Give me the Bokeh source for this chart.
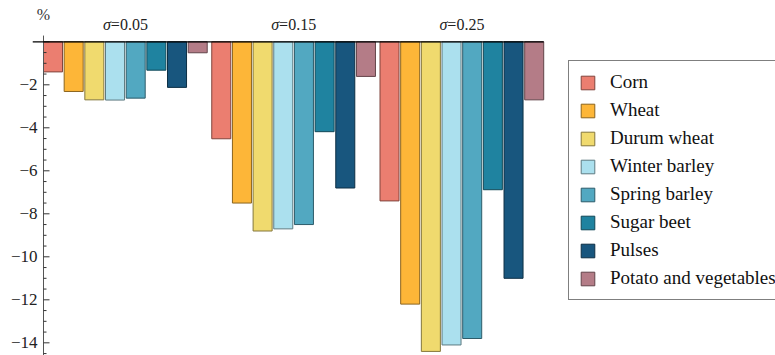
from bokeh.plotting import figure
from bokeh.models import Legend, LegendItem, FixedTicker, Label
from bokeh.embed import file_html
from bokeh.resources import INLINE

# ---------------- data ----------------
crops = ["Corn", "Wheat", "Durum wheat", "Winter barley", "Spring barley",
         "Sugar beet", "Pulses", "Potato and vegetables"]
sigma_labels = ["0.05", "0.15", "0.25"]
change_s005 = [-1.40, -2.31, -2.70, -2.71, -2.62, -1.32, -2.12, -0.51]
change_s015 = [-4.51, -7.50, -8.80, -8.70, -8.50, -4.18, -6.80, -1.61]
change_s025 = [-7.40, -12.20, -14.40, -14.10, -13.80, -6.88, -11.00, -2.70]
colors = ["#EB7E70", "#FDB638", "#F0DA6E", "#ABE0EE", "#52A8C1",
          "#1F83A0", "#18567E", "#B47C87"]
ytick_values = [-14, -12, -10, -8, -6, -4, -2]
ytick_labels = ["\u221214", "\u221212", "\u221210", "\u22128", "\u22126", "\u22124", "\u22122"]
yminor_values = [-0.5 * k for k in range(1, 30) if k % 4 != 0]

series = [change_s005, change_s015, change_s025]

GROUP_STEP = 8.14
BAR_W = 0.92
FONT = "'Liberation Serif', 'Times New Roman', serif"
PX_PER_UNIT = 20.67
Y_LO, Y_HI = -14.59, 1.921


def darker(hexcol, f=0.55):
    h = hexcol.lstrip("#")
    r, g, b = (int(h[i:i + 2], 16) for i in (0, 2, 4))
    return "#%02x%02x%02x" % (int(r * f), int(g * f), int(b * f))


ax = -BAR_W / 2                      # position of the vertical axis
x_start = ax - 11 / PX_PER_UNIT      # zero line sticks out 11px left of the axis
x_stop = x_start + 743 / PX_PER_UNIT

p = figure(width=775, height=355, output_backend="svg", toolbar_location=None,
           x_range=(x_start, x_stop), y_range=(Y_LO, Y_HI),
           x_axis_location=None,
           min_border_left=32, min_border_right=0, min_border_top=0, min_border_bottom=0)
p.grid.visible = False
p.outline_line_color = None
p.background_fill_color = "white"

# Bokeh y axis used only for the labels
p.yaxis.ticker = FixedTicker(ticks=ytick_values, minor_ticks=[])
p.yaxis.major_label_overrides = {v: lab for v, lab in zip(ytick_values, ytick_labels)}
p.yaxis.axis_line_color = None
p.yaxis.major_tick_line_color = None
p.yaxis.minor_tick_line_color = None
p.yaxis.major_tick_in = 0
p.yaxis.major_tick_out = 0
p.yaxis.minor_tick_in = 0
p.yaxis.minor_tick_out = 0
p.yaxis.major_label_text_font = FONT
p.yaxis.major_label_text_font_size = "17px"
p.yaxis.major_label_text_color = "#222222"
p.yaxis.major_label_standoff = -5

# bars
items = []
for i, crop in enumerate(crops):
    xs = [g * GROUP_STEP + i for g in range(len(series))]
    tops = [s[i] for s in series]
    r = p.vbar(x=xs, top=tops, bottom=0, width=BAR_W,
               fill_color=colors[i], line_color=darker(colors[i]), line_width=1)
    items.append(LegendItem(label=crop, renderers=[r]))

# vertical axis line and inward ticks
p.segment(x0=[ax], y0=[Y_LO], x1=[ax], y1=[0.29], line_color="#555555", line_width=1)
p.ray(x=[ax] * (len(ytick_values) + 1), y=ytick_values + [0], length=6,
      length_units="screen", angle=0, line_color="#333333", line_width=1)
p.ray(x=[ax] * len(yminor_values), y=yminor_values, length=3,
      length_units="screen", angle=0, line_color="#333333", line_width=1)

# zero line
x_end = (len(series) - 1) * GROUP_STEP + (len(crops) - 1) + BAR_W / 2
p.segment(x0=[x_start], y0=[0], x1=[x_end], y1=[0], line_color="black", line_width=1.3)

# group labels (italic sigma + upright value)
for g, s in enumerate(sigma_labels):
    cx = g * GROUP_STEP + (len(crops) - 1) / 2
    p.add_layout(Label(x=cx, y=0.8, text="\u03c3", text_font=FONT, text_font_size="16px",
                       text_font_style="italic", text_align="right", text_baseline="middle",
                       x_offset=-14.5, text_color="#222222"))
    p.add_layout(Label(x=cx, y=0.8, text="=" + s, text_font=FONT, text_font_size="16px",
                       text_align="left", text_baseline="middle",
                       x_offset=-14.5, text_color="#222222"))

# axis unit label
p.add_layout(Label(x=ax, y=1.25, text="%", text_font=FONT, text_font_size="16px",
                   text_align="center", text_baseline="middle", text_color="#333333"))

legend = Legend(items=items, location=(536, 55), margin=0,
                glyph_width=17, glyph_height=17, label_standoff=14,
                padding=10, spacing=6, label_height=20,
                label_text_font=FONT, label_text_font_size="19px",
                label_text_color="#111111",
                border_line_color="black", border_line_width=1.5,
                background_fill_color="white", background_fill_alpha=1)
p.add_layout(legend)

open("out.html", "w").write(file_html(p, INLINE))
